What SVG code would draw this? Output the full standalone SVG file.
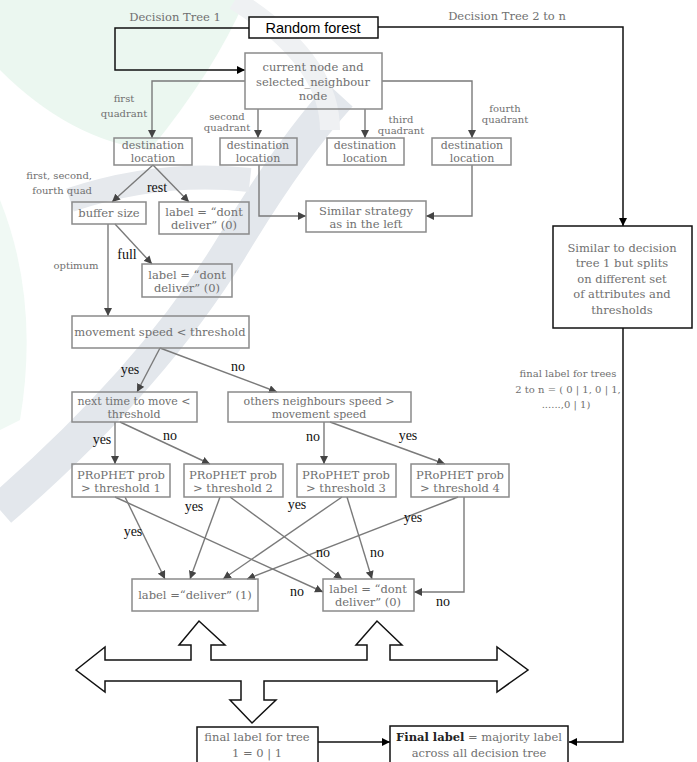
<svg xmlns="http://www.w3.org/2000/svg" width="697" height="762" viewBox="0 0 697 762">
<style>
.bg{fill:#ffffff}
.nb{fill:none;stroke:#8a8a8a;stroke-width:1.5}
.kb{fill:#ffffff;stroke:#111;stroke-width:1.5}
.t{font-family:"DejaVu Serif","Liberation Serif",serif;font-size:11.5px;fill:#707070;text-anchor:middle}
.t2{font-family:"DejaVu Serif","Liberation Serif",serif;font-size:11px;fill:#707070;text-anchor:middle}
.ts{font-family:"DejaVu Serif","Liberation Serif",serif;font-size:10px;fill:#707070;text-anchor:middle}
.lb{font-family:"Liberation Serif",serif;font-size:14px;fill:#111;text-anchor:middle}
.rf{font-family:"Liberation Sans",Arial,sans-serif;font-size:14.5px;fill:#000;text-anchor:middle}
.cg{fill:none;stroke:#7a7a7a;stroke-width:1.4}
.ck{fill:none;stroke:#111;stroke-width:1.5}
</style>
<defs>
<marker id="ag" viewBox="0 0 10 10" refX="10" refY="5" markerWidth="8" markerHeight="8" markerUnits="userSpaceOnUse" orient="auto"><path d="M0,0 L10,5 L0,10 z" fill="#444"/></marker>
<marker id="ak" viewBox="0 0 10 10" refX="10" refY="5" markerWidth="8" markerHeight="8" markerUnits="userSpaceOnUse" orient="auto"><path d="M0,0 L10,5 L0,10 z" fill="#000"/></marker>
</defs>
<rect class="bg" x="0" y="0" width="697" height="762"/>
<g id="watermark">
<path d="M0,0 L245,0 Q215,70 150,150 Q70,140 0,70 Z" fill="#ebf7f0"/>
<path d="M0,200 Q40,300 20,420 L0,430 Z" fill="#f0f9f4"/>
<path d="M0,510 Q150,380 230,250 Q290,150 340,95" fill="none" stroke="#e3e7ec" stroke-width="34"/>
<path d="M70,200 Q160,170 250,180" fill="none" stroke="#e6e9ed" stroke-width="24"/>
<path d="M235,0 Q330,60 330,130" fill="none" stroke="#eff1f3" stroke-width="20"/>
</g>
<g id="connectors">
<path class="ck" d="M249,28 H115 V70 H245" marker-end="url(#ak)"/>
<path class="ck" d="M378,27 H623 V226" marker-end="url(#ak)"/>
<path class="ck" d="M623,328 V742 H569" marker-end="url(#ak)"/>
<path class="ck" d="M318,742 H390" marker-end="url(#ak)"/>
<path class="cg" d="M245,81 H152 V138" marker-end="url(#ag)"/>
<path class="cg" d="M258,109 V138" marker-end="url(#ag)"/>
<path class="cg" d="M365,109 V138" marker-end="url(#ag)"/>
<path class="cg" d="M382,81 H472 V138" marker-end="url(#ag)"/>
<path class="cg" d="M153,165 L112,202" marker-end="url(#ag)"/>
<path class="cg" d="M153,165 L189,202" marker-end="url(#ag)"/>
<path class="cg" d="M259,165 V216 H306" marker-end="url(#ag)"/>
<path class="cg" d="M472,165 V216 H426" marker-end="url(#ag)"/>
<path class="cg" d="M108,224 V316" marker-end="url(#ag)"/>
<path class="cg" d="M115,224 L152,264" marker-end="url(#ag)"/>
<path class="cg" d="M160,348 L137,392" marker-end="url(#ag)"/>
<path class="cg" d="M160,348 L277,392" marker-end="url(#ag)"/>
<path class="cg" d="M115,422 V464" marker-end="url(#ag)"/>
<path class="cg" d="M120,422 L210,464" marker-end="url(#ag)"/>
<path class="cg" d="M324,422 V464" marker-end="url(#ag)"/>
<path class="cg" d="M330,422 L445,464" marker-end="url(#ag)"/>
<path class="cg" d="M115,497 L323,592" marker-end="url(#ag)"/>
<path class="cg" d="M125,497 L165,579" marker-end="url(#ag)"/>
<path class="cg" d="M220,497 L190,579" marker-end="url(#ag)"/>
<path class="cg" d="M230,497 L342,579" marker-end="url(#ag)"/>
<path class="cg" d="M342,497 L223,579" marker-end="url(#ag)"/>
<path class="cg" d="M347,497 L372,579" marker-end="url(#ag)"/>
<path class="cg" d="M458,497 L247,579" marker-end="url(#ag)"/>
<path class="cg" d="M464,497 V592 H414" marker-end="url(#ag)"/>
</g>
<g id="edge-labels">
<text class="t" x="175" y="21">Decision Tree 1</text>
<text class="t" x="507" y="20">Decision Tree 2 to n</text>
<text class="ts" x="124" y="102">first</text>
<text class="ts" x="124" y="117">quadrant</text>
<text class="ts" x="227" y="120">second</text>
<text class="ts" x="227" y="131">quadrant</text>
<text class="ts" x="401" y="123">third</text>
<text class="ts" x="401" y="134">quadrant</text>
<text class="ts" x="505" y="112">fourth</text>
<text class="ts" x="505" y="123">quadrant</text>
<text class="ts" x="92" y="179" style="text-anchor:end">first, second,</text>
<text class="ts" x="92" y="194" style="text-anchor:end">fourth quad</text>
<text class="lb" x="157" y="192">rest</text>
<text class="ts" x="76" y="269">optimum</text>
<text class="lb" x="127" y="259">full</text>
<text class="lb" x="130" y="374">yes</text>
<text class="lb" x="238" y="371">no</text>
<text class="lb" x="102" y="444">yes</text>
<text class="lb" x="170" y="440">no</text>
<text class="lb" x="313" y="441">no</text>
<text class="lb" x="408" y="440">yes</text>
<text class="lb" x="194" y="511">yes</text>
<text class="lb" x="297" y="509">yes</text>
<text class="lb" x="133" y="536">yes</text>
<text class="lb" x="413" y="522">yes</text>
<text class="lb" x="323" y="557">no</text>
<text class="lb" x="377" y="557">no</text>
<text class="lb" x="297" y="596">no</text>
<text class="lb" x="443" y="606">no</text>
<text class="ts" x="568" y="377">final label for trees</text>
<text class="ts" x="568" y="393">2 to n = ( 0 | 1, 0 | 1,</text>
<text class="ts" x="566" y="408">......,0 | 1)</text>
</g>
<g id="random-forest"><rect class="kb" x="249" y="17" width="129" height="21"/><text class="rf" x="313" y="33">Random forest</text></g>
<g id="current-node"><rect class="nb" x="245" y="53" width="137" height="56"/><text class="t" x="313" y="71">current node and</text><text class="t" x="313" y="86">selected_neighbour</text><text class="t" x="313" y="100">node</text></g>
<g id="dest1"><rect class="nb" x="114" y="138" width="78" height="27"/><text class="t2" x="153" y="149">destination</text><text class="t2" x="153" y="161.5">location</text></g>
<g id="dest2"><rect class="nb" x="220" y="138" width="77" height="27"/><text class="t2" x="258" y="149">destination</text><text class="t2" x="258" y="161.5">location</text></g>
<g id="dest3"><rect class="nb" x="327" y="138" width="77" height="27"/><text class="t2" x="365" y="149">destination</text><text class="t2" x="365" y="161.5">location</text></g>
<g id="dest4"><rect class="nb" x="432" y="138" width="79" height="27"/><text class="t2" x="472" y="149">destination</text><text class="t2" x="472" y="161.5">location</text></g>
<g id="buffer-size"><rect class="nb" x="72" y="202" width="74" height="22"/><text class="t" x="109" y="217">buffer size</text></g>
<g id="dont-deliver-a"><rect class="nb" x="159" y="202" width="90" height="32"/><text class="t" x="204" y="216">label = “dont</text><text class="t" x="204" y="229">deliver” (0)</text></g>
<g id="similar-strategy"><rect class="nb" x="306" y="201" width="120" height="31"/><text class="t" x="366" y="215">Similar strategy</text><text class="t" x="366" y="228">as in the left</text></g>
<g id="dont-deliver-b"><rect class="nb" x="142" y="264" width="90" height="33"/><text class="t" x="187" y="279">label = “dont</text><text class="t" x="187" y="292">deliver” (0)</text></g>
<g id="similar-tree"><rect class="kb" x="553" y="226" width="139" height="102"/><text class="t" x="622" y="252">Similar to decision</text><text class="t" x="622" y="267">tree 1 but splits</text><text class="t" x="622" y="283">on different set</text><text class="t" x="622" y="298">of attributes and</text><text class="t" x="622" y="314">thresholds</text></g>
<g id="movement-speed"><rect class="nb" x="72" y="316" width="177" height="32"/><text class="t" x="160" y="336">movement speed &lt; threshold</text></g>
<g id="next-time"><rect class="nb" x="72" y="392" width="125" height="30"/><text class="t2" x="134" y="405">next time to move &lt;</text><text class="t2" x="134" y="418">threshold</text></g>
<g id="others-speed"><rect class="nb" x="228" y="392" width="183" height="30"/><text class="t2" x="319" y="404.5">others neighbours speed &gt;</text><text class="t2" x="319" y="417.5">movement speed</text></g>
<g id="prophet1"><rect class="nb" x="72" y="464" width="98" height="33"/><text class="t" x="121" y="479">PRoPHET prob</text><text class="t" x="121" y="492">&gt; threshold 1</text></g>
<g id="prophet2"><rect class="nb" x="184" y="464" width="99" height="33"/><text class="t" x="233" y="479">PRoPHET prob</text><text class="t" x="233" y="492">&gt; threshold 2</text></g>
<g id="prophet3"><rect class="nb" x="297" y="464" width="99" height="33"/><text class="t" x="346" y="479">PRoPHET prob</text><text class="t" x="346" y="492">&gt; threshold 3</text></g>
<g id="prophet4"><rect class="nb" x="411" y="464" width="98" height="33"/><text class="t" x="460" y="479">PRoPHET prob</text><text class="t" x="460" y="492">&gt; threshold 4</text></g>
<g id="deliver"><rect class="nb" x="132" y="579" width="126" height="32"/><text class="t" x="195" y="599">label =“deliver” (1)</text></g>
<g id="dont-deliver-c"><rect class="nb" x="323" y="579" width="91" height="32"/><text class="t" x="368" y="593">label = “dont</text><text class="t" x="368" y="606">deliver” (0)</text></g>
<g id="block-arrows"><path d="M76,670 L105,647 L105,660 L191,660 L191,645 L179,645 L199,621 L225,645 L211,645 L211,660 L367,660 L367,645 L356,645 L377,621 L402,645 L390,645 L390,660 L497,660 L497,647 L528,670 L497,692 L497,681 L264,681 L264,700 L276,700 L252,723 L230,700 L241,700 L241,681 L105,681 L105,692 Z" fill="#ffffff" stroke="#111" stroke-width="1.5" stroke-linejoin="miter"/></g>
<g id="final-tree1"><rect class="kb" x="197" y="727" width="121" height="40"/><text class="t" x="257" y="741">final label for tree</text><text class="t" x="257" y="757">1 = 0  | 1</text></g>
<g id="final-label"><rect class="kb" x="390" y="726" width="178" height="40"/><text class="t" x="479" y="741"><tspan style="font-weight:bold;fill:#222">Final label</tspan> = majority label</text><text class="t" x="479" y="757">across all decision tree</text></g>
</svg>
